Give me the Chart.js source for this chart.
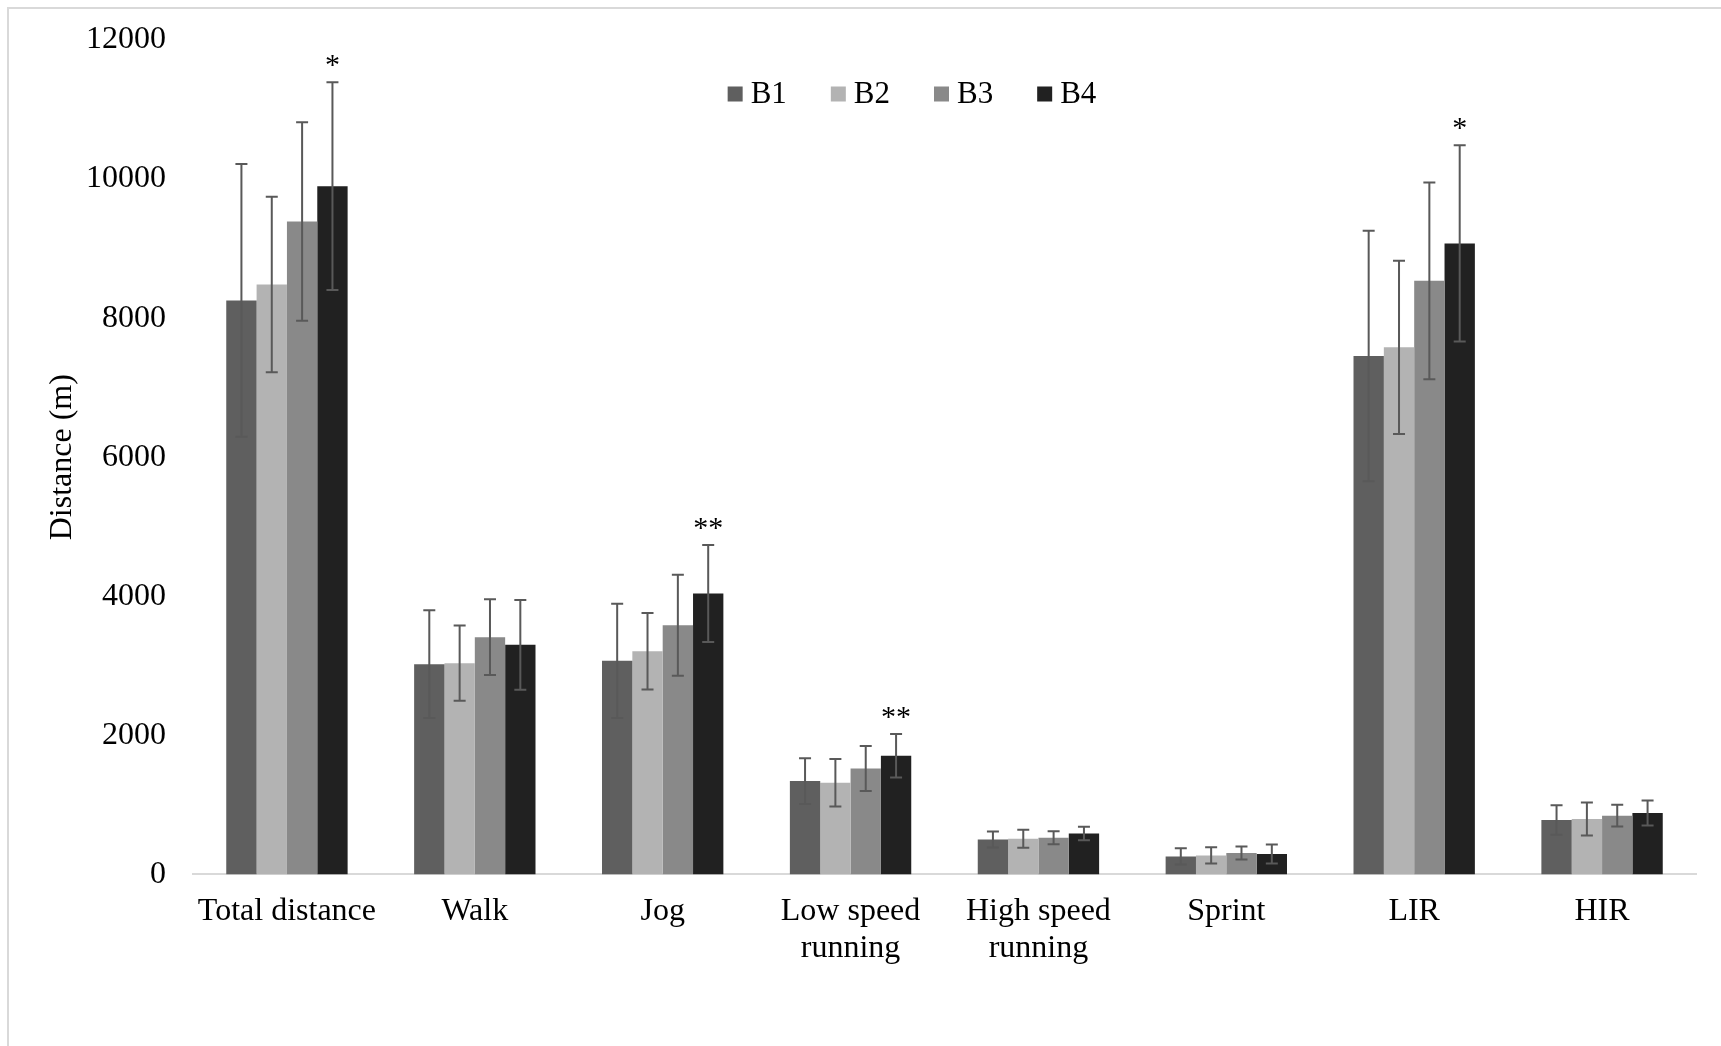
<!DOCTYPE html>
<html>
<head>
<meta charset="utf-8">
<title>Distance by block</title>
<script src="https://cdn.jsdelivr.net/npm/chart.js@4.4.1/dist/chart.umd.min.js"></script>
<style>
    html, body { margin: 0; padding: 0; background: #fff; overflow: hidden; }
    #frame { position: absolute; left: 7px; top: 7px; width: 1730px; height: 1060px;
             border-top: 2px solid #d9d9d9; border-left: 2px solid #d9d9d9; }
    #wrap { position: absolute; left: 0; top: 0; width: 1721px; height: 1046px; }
</style>
</head>
<body>
<div id="frame"></div>
<div id="wrap"><canvas id="chart"></canvas></div>
<script>
// categories and tick labels
const categories = ["Total distance", "Walk", "Jog", ["Low speed", "running"], ["High speed", "running"], "Sprint", "LIR", "HIR"];
const yTicks = [0, 2000, 4000, 6000, 8000, 10000, 12000];
const seriesNames = ["B1", "B2", "B3", "B4"];

// means (m)
const b1 = [8255, 3024, 3071, 1342, 503, 259, 7455, 782];
const b2 = [8485, 3038, 3210, 1318, 513, 273, 7580, 796];
const b3 = [9390, 3412, 3584, 1523, 527, 307, 8537, 844];
const b4 = [9898, 3301, 4039, 1706, 589, 293, 9074, 882];

// standard deviations (m)
const b1Sd = [1960, 775, 820, 330, 115, 117, 1800, 211];
const b2Sd = [1262, 540, 550, 340, 130, 118, 1245, 238];
const b3Sd = [1428, 545, 726, 323, 93, 93, 1415, 156];
const b4Sd = [1493, 645, 697, 314, 98, 137, 1411, 180];

// significance marks over B4
const b4Marks = ["*", "", "**", "**", "", "", "*", ""];

const colors = ["#5f5f5f", "#b3b3b3", "#898989", "#212121"];
const serif = "'Liberation Serif', 'Times New Roman', serif";

class DistanceChart {

    static errorColor = "#595959";
    static legendCenter = { x: 912, y: 94 };
    static yAxisWidth = 193;

    static datasets() {
        const means = [b1, b2, b3, b4];
        const sds = [b1Sd, b2Sd, b3Sd, b4Sd];
        return seriesNames.map((name, i) => ({
            label: name,
            data: means[i],
            sd: sds[i],
            backgroundColor: colors[i],
            borderWidth: 0,
            categoryPercentage: 0.646,
            barPercentage: 1.0
        }));
    }

    // error bars + asterisks
    static errorBars = {
        id: "errorBars",
        afterDatasetsDraw(chart) {
            const ctx = chart.ctx;
            const y = chart.scales.y;
            ctx.save();
            ctx.strokeStyle = DistanceChart.errorColor;
            ctx.lineWidth = 2;
            chart.data.datasets.forEach((ds, di) => {
                const meta = chart.getDatasetMeta(di);
                meta.data.forEach((bar, i) => {
                    const top = y.getPixelForValue(ds.data[i] + ds.sd[i]);
                    const bot = y.getPixelForValue(ds.data[i] - ds.sd[i]);
                    ctx.beginPath();
                    ctx.moveTo(bar.x, top); ctx.lineTo(bar.x, bot);
                    ctx.moveTo(bar.x - 6, top); ctx.lineTo(bar.x + 6, top);
                    ctx.moveTo(bar.x - 6, bot); ctx.lineTo(bar.x + 6, bot);
                    ctx.stroke();
                });
            });

            const last = chart.data.datasets[3];
            const meta = chart.getDatasetMeta(3);
            ctx.fillStyle = "#000";
            ctx.font = "30px " + serif;
            ctx.textAlign = "center";
            ctx.textBaseline = "alphabetic";
            meta.data.forEach((bar, i) => {
                if (!b4Marks[i]) return;
                const top = y.getPixelForValue(last.data[i] + last.sd[i]);
                ctx.fillText(b4Marks[i], bar.x, top - 8);
            });
            ctx.restore();
        }
    };

    static legend = {
        id: "blockLegend",
        afterDraw(chart) {
            const ctx = chart.ctx;
            const box = 15, gap = 8, spacing = 44;
            ctx.save();
            ctx.font = "31px " + serif;
            ctx.textBaseline = "middle";
            ctx.textAlign = "left";
            const items = chart.data.datasets.map(ds => ({
                text: ds.label, color: ds.backgroundColor, w: ctx.measureText(ds.label).width
            }));
            let total = items.reduce((s, it) => s + box + gap + it.w, 0) + spacing * (items.length - 1);
            let x = DistanceChart.legendCenter.x - total / 2;
            const cy = DistanceChart.legendCenter.y;
            for (let it of items) {
                ctx.fillStyle = it.color;
                ctx.fillRect(x, cy - box / 2, box, box);
                ctx.fillStyle = "#000";
                ctx.fillText(it.text, x + box + gap, cy + 1);
                x += box + gap + it.w + spacing;
            }
            ctx.restore();
        }
    };

    static draw() {
        Chart.defaults.font.family = serif;
        Chart.defaults.color = "#000";

        return new Chart(document.getElementById("chart"), {
            type: "bar",
            data: { labels: categories, datasets: DistanceChart.datasets() },
            options: {
                responsive: true,
                maintainAspectRatio: false,
                animation: false,
                layout: { padding: { top: 40, right: 25, bottom: 68, left: 0 } },
                plugins: {
                    legend: { display: false },
                    tooltip: { enabled: false }
                },
                scales: {
                    x: {
                        grid: { display: false },
                        border: { display: true, color: "#d9d9d9", width: 2 },
                        ticks: { font: { size: 32, lineHeight: 1.15 }, padding: 11, maxRotation: 0, autoSkip: false }
                    },
                    y: {
                        min: 0,
                        max: 12000,
                        afterBuildTicks: (scale) => { scale.ticks = yTicks.map(v => ({ value: v })); },
                        afterFit: (scale) => {
                            scale.width = DistanceChart.yAxisWidth;
                            scale.paddingTop = 0;
                            scale.paddingBottom = 0;
                        },
                        grid: { display: false, drawTicks: false },
                        border: { display: false },
                        ticks: { font: { size: 32 }, padding: 27, callback: (v) => String(v) },
                        title: {
                            display: true,
                            text: "Distance (m)",
                            font: { size: 32, lineHeight: 1.15 },
                            padding: { top: 44, bottom: 6 }
                        }
                    }
                }
            },
            plugins: [DistanceChart.errorBars, DistanceChart.legend]
        });
    }
}

DistanceChart.draw();
</script>
</body>
</html>
